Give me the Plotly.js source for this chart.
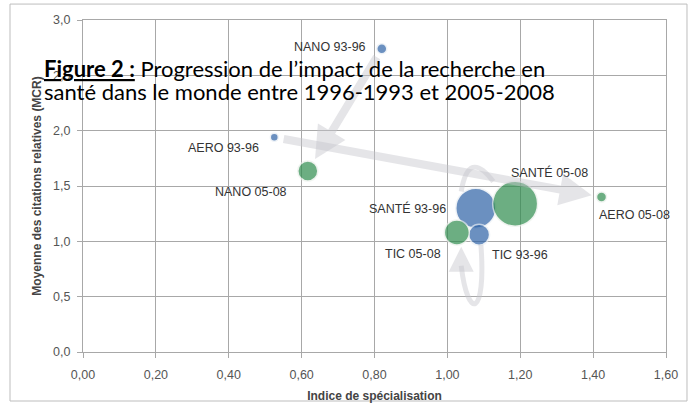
<!DOCTYPE html>
<html>
<head>
<meta charset="utf-8">
<script src="https://cdn.plot.ly/plotly-3.0.1.min.js"></script>
<style>
html,body{margin:0;padding:0;background:#fff;}
#chart{width:689px;height:404px;}
</style>
</head>
<body>
<div id="chart"></div>
<script>
// Data
var domains = ["NANO", "AERO", "SANTÉ", "TIC"];
var spec9396 = [0.82, 0.525, 1.078, 1.087];
var mcr9396  = [2.74, 1.94, 1.30, 1.06];
var size9396 = [10, 8, 40, 21];
var spec0508 = [0.617, 1.423, 1.186, 1.026];
var mcr0508  = [1.635, 1.40, 1.34, 1.08];
var size0508 = [20, 10, 45, 25];
var xTicks = [0, 0.2, 0.4, 0.6, 0.8, 1.0, 1.2, 1.4, 1.6];
var yTicks = [0, 0.5, 1.0, 1.5, 2.0, 2.5, 3.0];
var captionLines = [
  "<b><u>Figure 2 :</u></b> Progression de l’impact de la recherche en",
  "santé dans le monde entre 1996-1993 et 2005-2008"
];

// label placement (style, pixels)
var lab9396 = [
  {xa:"right", dx:-14, dy:2},
  {xa:"right", dx:-13, dy:-11},
  {xa:"right", dx:-28, dy:0},
  {xa:"left",  dx:11,  dy:-20}
];
var lab0508 = [
  {xa:"right", dx:-19, dy:-21},
  {xa:"left",  dx:-5,  dy:-18},
  {xa:"left",  dx:-6,  dy:31},
  {xa:"right", dx:-14, dy:-22}
];

var blue = "#2d62a6", green = "#2e8c4e";
var arrowCol = "rgba(198,198,205,0.45)";

var traces = [
  {
    type: "scatter", mode: "markers",
    x: spec9396, y: mcr9396,
    marker: {size: size9396, sizemode: "diameter", color: blue,
             line: {color: "rgba(235,240,245,0.95)", width: 1.5}},
    hoverinfo: "skip", showlegend: false
  },
  {
    type: "scatter", mode: "markers",
    x: spec0508, y: mcr0508,
    marker: {size: size0508, sizemode: "diameter", color: green,
             line: {color: "rgba(235,240,235,0.95)", width: 1.5}},
    hoverinfo: "skip", showlegend: false
  }
];

var annotations = [];
var labFont = {family: "Liberation Sans, Arial, sans-serif", size: 12.5, color: "#333"};
domains.forEach(function(d, i) {
  annotations.push({x: spec9396[i], y: mcr9396[i], xref: "x", yref: "y",
    text: d + " 93-96", showarrow: false, xanchor: lab9396[i].xa, yanchor: "middle",
    xshift: lab9396[i].dx, yshift: lab9396[i].dy, font: labFont});
  annotations.push({x: spec0508[i], y: mcr0508[i], xref: "x", yref: "y",
    text: d + " 05-08", showarrow: false, xanchor: lab0508[i].xa, yanchor: "middle",
    xshift: lab0508[i].dx, yshift: lab0508[i].dy, font: labFont});
});

// straight gray arrows (NANO, AERO)
[0, 1].forEach(function(i) {
  annotations.push({x: spec0508[i], y: mcr0508[i], ax: spec9396[i], ay: mcr9396[i],
    xref: "x", yref: "y", axref: "x", ayref: "y", text: "",
    showarrow: true, arrowhead: 2, arrowsize: 0.8, arrowwidth: 8,
    arrowcolor: arrowCol, standoff: i === 0 ? 14 : 10, startstandoff: 8});
});

// curved SANTÉ arrow and TIC loop, built from the data points
var s = 2, t = 3;
var shapes = [];
shapes.push({type: "path", xref: "x", yref: "y",
  path: "M " + (spec9396[s] - 0.04) + "," + (mcr9396[s] + 0.15) +
        " Q " + (spec9396[s] - 0.02) + "," + (mcr0508[s] + 0.5) +
        " " + (spec0508[s] - 0.06) + "," + (mcr0508[s] + 0.2),
  line: {color: arrowCol, width: 5}});
shapes.push({type: "path", xref: "x", yref: "y",
  path: "M " + (spec9396[t] + 0.005) + "," + (mcr9396[t] - 0.09) +
        " C " + (spec9396[t] + 0.02) + "," + (mcr9396[t] - 0.75) +
        " " + (spec0508[t] + 0.03) + "," + (mcr0508[t] - 0.8) +
        " " + (spec0508[t] + 0.012) + "," + (mcr0508[t] - 0.3),
  line: {color: arrowCol, width: 5}});
annotations.push({x: spec0508[t] + 0.012, y: mcr0508[t] - 0.13,
  ax: spec0508[t] + 0.012, ay: mcr0508[t] - 0.3,
  xref: "x", yref: "y", axref: "x", ayref: "y", text: "",
  showarrow: true, arrowhead: 2, arrowsize: 1, arrowwidth: 5, arrowcolor: arrowCol});

// overlay caption (two lines, tight spacing as in the source)
var capY = [0.855, 0.786];
captionLines.forEach(function(txt, k) {
  annotations.push({xref: "paper", yref: "paper", x: -0.0703, y: capY[k],
    xanchor: "left", yanchor: "middle", align: "left", showarrow: false,
    text: txt,
    font: {family: "Lato, Carlito, sans-serif", size: 22, color: "#000"}});
});

// outer frame
shapes.push({type: "rect", xref: "paper", yref: "paper",
  x0: -0.1252, x1: 1.036, y0: -0.1476, y1: 1.048,
  line: {color: "#bdbdbd", width: 1}, layer: "below"});

var axFont = {family: "Liberation Sans, Arial, sans-serif", size: 12.5, color: "#555"};
var layout = {
  width: 689, height: 404,
  margin: {l: 83, r: 23, t: 20, b: 52},
  paper_bgcolor: "#fff", plot_bgcolor: "#fff",
  separators: ", ",
  showlegend: false,
  xaxis: {
    range: [0, 1.6], tickvals: xTicks, tickformat: ".2f",
    showgrid: true, gridcolor: "#a8a8a8", gridwidth: 1,
    zeroline: false, showline: true, linecolor: "#a8a8a8", mirror: true,
    ticks: "outside", ticklen: 5, tickcolor: "#a8a8a8",
    ticklabelstandoff: 6,
    tickfont: axFont,
    title: {text: "<b>Indice de spécialisation</b>", standoff: 10,
            font: {family: "Liberation Sans, Arial, sans-serif", size: 12, color: "#444"}}
  },
  yaxis: {
    range: [0, 3.0], tickvals: yTicks, tickformat: ".1f",
    showgrid: true, gridcolor: "#a8a8a8", gridwidth: 1,
    zeroline: false, showline: true, linecolor: "#a8a8a8", mirror: true,
    ticks: "outside", ticklen: 5, tickcolor: "#a8a8a8",
    ticklabelstandoff: 4,
    tickfont: axFont,
    title: {text: "<b>Moyenne des citations relatives (MCR)</b>", standoff: 8,
            font: {family: "Liberation Sans, Arial, sans-serif", size: 12, color: "#444"}}
  },
  annotations: annotations,
  shapes: shapes
};

Plotly.newPlot("chart", traces, layout, {displayModeBar: false, staticPlot: true});
</script>
</body>
</html>
